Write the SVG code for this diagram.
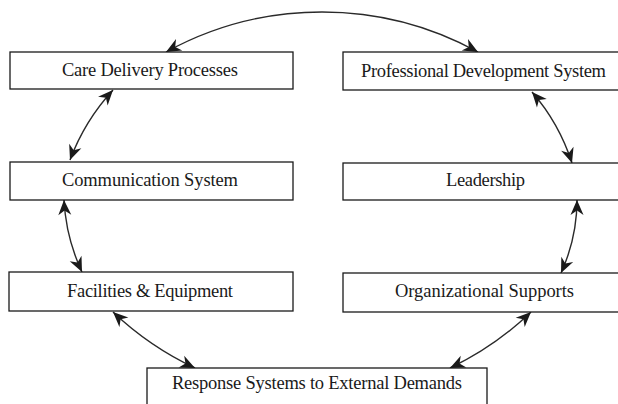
<svg xmlns="http://www.w3.org/2000/svg" width="618" height="404" viewBox="0 0 618 404">
  <style>
    .box { fill: #fff; stroke: #1a1a1a; stroke-width: 1.3; }
    .lbl { font-family: "Liberation Serif", "DejaVu Serif", serif; font-size: 18.5px; fill: #1a1a1a; text-anchor: middle; }
    .link { fill: none; stroke: #2a2a2a; stroke-width: 1.4; marker-start: url(#head); marker-end: url(#head); }
  </style>
  <defs>
    <marker id="head" markerUnits="userSpaceOnUse" markerWidth="18" markerHeight="16" viewBox="-16 -8 18 16" refX="0" refY="0" orient="auto-start-reverse">
      <path d="M0,0 L-15,-6.5 L-10.5,0 L-15,6.5 Z" fill="#1a1a1a"/>
    </marker>
  </defs>
  <rect width="618" height="404" fill="#fff"/>

  <g id="connectors">
    <path class="link" d="M166,52 A324,324 0 0 1 478,52"/>
    <path class="link" d="M113,90 Q84.7,120.8 70,160"/>
    <path class="link" d="M64,200 Q66,238 82,272"/>
    <path class="link" d="M113,312 Q149.5,346.6 195,368"/>
    <path class="link" d="M531,312 Q495,346.6 450,368"/>
    <path class="link" d="M577,200 Q577,238 561,273"/>
    <path class="link" d="M532,92 Q559,123 572,163"/>
  </g>

  <g id="care-delivery">
    <rect class="box" x="10" y="52" width="283" height="37"/>
    <text class="lbl" x="150" y="76" textLength="176">Care Delivery Processes</text>
  </g>
  <g id="communication">
    <rect class="box" x="10" y="162" width="283" height="38"/>
    <text class="lbl" x="150" y="186" textLength="176">Communication System</text>
  </g>
  <g id="facilities">
    <rect class="box" x="9" y="272" width="284" height="39"/>
    <text class="lbl" x="150" y="297" textLength="166">Facilities &amp; Equipment</text>
  </g>
  <g id="response">
    <rect class="box" x="147" y="368" width="340" height="44"/>
    <text class="lbl" x="317" y="389" textLength="290">Response Systems to External Demands</text>
  </g>
  <g id="professional-development">
    <rect class="box" x="343" y="52" width="290" height="38"/>
    <text class="lbl" x="483.5" y="77" textLength="245">Professional Development System</text>
  </g>
  <g id="leadership">
    <rect class="box" x="343" y="163" width="290" height="37"/>
    <text class="lbl" x="485.5" y="186" textLength="79">Leadership</text>
  </g>
  <g id="organizational-supports">
    <rect class="box" x="343" y="273" width="290" height="39"/>
    <text class="lbl" x="484.5" y="297" textLength="179">Organizational Supports</text>
  </g>
</svg>
